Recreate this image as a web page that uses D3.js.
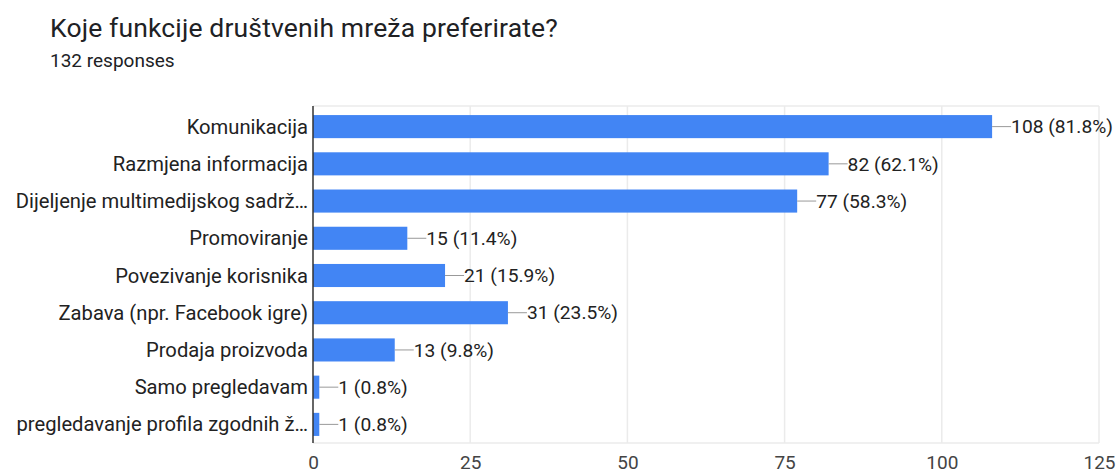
<!DOCTYPE html>
<html>
<head>
<meta charset="utf-8">
<script src="https://cdn.jsdelivr.net/npm/d3@7"></script>
<style>
  html, body { margin: 0; padding: 0; background: #fff; }
  svg { display: block; }
</style>
</head>
<body>
<svg id="chart" width="1120" height="475"></svg>
<script>
// Survey answers
const categories = [
  "Komunikacija",
  "Razmjena informacija",
  "Dijeljenje multimedijskog sadrž…",
  "Promoviranje",
  "Povezivanje korisnika",
  "Zabava (npr. Facebook igre)",
  "Prodaja proizvoda",
  "Samo pregledavam",
  "pregledavanje profila zgodnih ž…"
];
const counts = [108, 82, 77, 15, 21, 31, 13, 1, 1];
const percents = ["81.8%", "62.1%", "58.3%", "11.4%", "15.9%", "23.5%", "9.8%", "0.8%", "0.8%"];
const tickValues = [0, 25, 50, 75, 100, 125];
const title = "Koje funkcije društvenih mreža preferirate?";
const subtitle = "132 responses";

const svg = d3.select("#chart");
const plot = { left: 313, right: 1099, top: 108, bottom: 443 };
const labelFont = "Roboto, Arial, sans-serif";

svg.append("text")
  .attr("x", 50).attr("y", 37)
  .attr("font-family", "Roboto, sans-serif")
  .attr("font-size", 26.5)
  .attr("letter-spacing", 0.15)
  .attr("fill", "#202124")
  .text(title);

svg.append("text")
  .attr("x", 50).attr("y", 67)
  .attr("font-family", "Roboto, sans-serif")
  .attr("font-size", 19)
  .attr("fill", "#202124")
  .text(subtitle);

const x = d3.scaleLinear().domain([0, 125]).range([plot.left, plot.right]);
const y = d3.scaleBand().domain(categories).range([plot.top, plot.bottom]).paddingInner(0.38).paddingOuter(0.19);

// Gridlines
svg.append("g").selectAll("line")
  .data(tickValues.filter(d => d > 0))
  .join("line")
  .attr("x1", d => x(d)).attr("x2", d => x(d))
  .attr("y1", plot.top - 2).attr("y2", plot.bottom)
  .attr("stroke", "#ebebeb").attr("stroke-width", 1.5);

svg.append("line")
  .attr("x1", plot.left).attr("x2", plot.right)
  .attr("y1", plot.top - 2).attr("y2", plot.top - 2)
  .attr("stroke", "#ebebeb").attr("stroke-width", 1.5);
svg.append("line")
  .attr("x1", plot.left).attr("x2", plot.right)
  .attr("y1", plot.bottom).attr("y2", plot.bottom)
  .attr("stroke", "#ebebeb").attr("stroke-width", 1.5);

// Bars
svg.append("g").selectAll("rect")
  .data(categories)
  .join("rect")
  .attr("x", x(0))
  .attr("y", d => y(d))
  .attr("width", (d, i) => x(counts[i]) - x(0))
  .attr("height", y.bandwidth())
  .attr("fill", "#4285f4");

// Leader lines and value labels
const ann = svg.append("g");
categories.forEach((c, i) => {
  const xe = x(counts[i]);
  const yc = y(c) + y.bandwidth() / 2;
  ann.append("line")
    .attr("x1", xe).attr("x2", xe + 19)
    .attr("y1", yc).attr("y2", yc)
    .attr("stroke", "#999").attr("stroke-width", 1);
  ann.append("text")
    .attr("x", xe + 19).attr("y", yc)
    .attr("dy", "0.35em")
    .attr("font-family", labelFont)
    .attr("font-size", 19.2)
    .attr("fill", "#222")
    .text(`${counts[i]} (${percents[i]})`);
});

// Category labels
svg.append("g").selectAll("text")
  .data(categories)
  .join("text")
  .attr("x", plot.left - 5)
  .attr("y", d => y(d) + y.bandwidth() / 2)
  .attr("dy", "0.35em")
  .attr("text-anchor", "end")
  .attr("font-family", labelFont)
  .attr("font-size", 20.2)
  .attr("fill", "#222")
  .text(d => d);

// Zero baseline
svg.append("line")
  .attr("x1", x(0)).attr("x2", x(0))
  .attr("y1", plot.top - 2).attr("y2", plot.bottom)
  .attr("stroke", "#333").attr("stroke-width", 1.5);

// X axis tick labels
const xAxis = d3.axisBottom(x).tickValues(tickValues).tickSize(0).tickPadding(0);
const gx = svg.append("g").attr("transform", `translate(0,${plot.bottom + 12})`).call(xAxis);
gx.select(".domain").remove();
gx.selectAll("text")
  .attr("font-family", labelFont)
  .attr("font-size", 19)
  .attr("fill", "#444")
  .attr("dy", "0.71em");
</script>
</body>
</html>
